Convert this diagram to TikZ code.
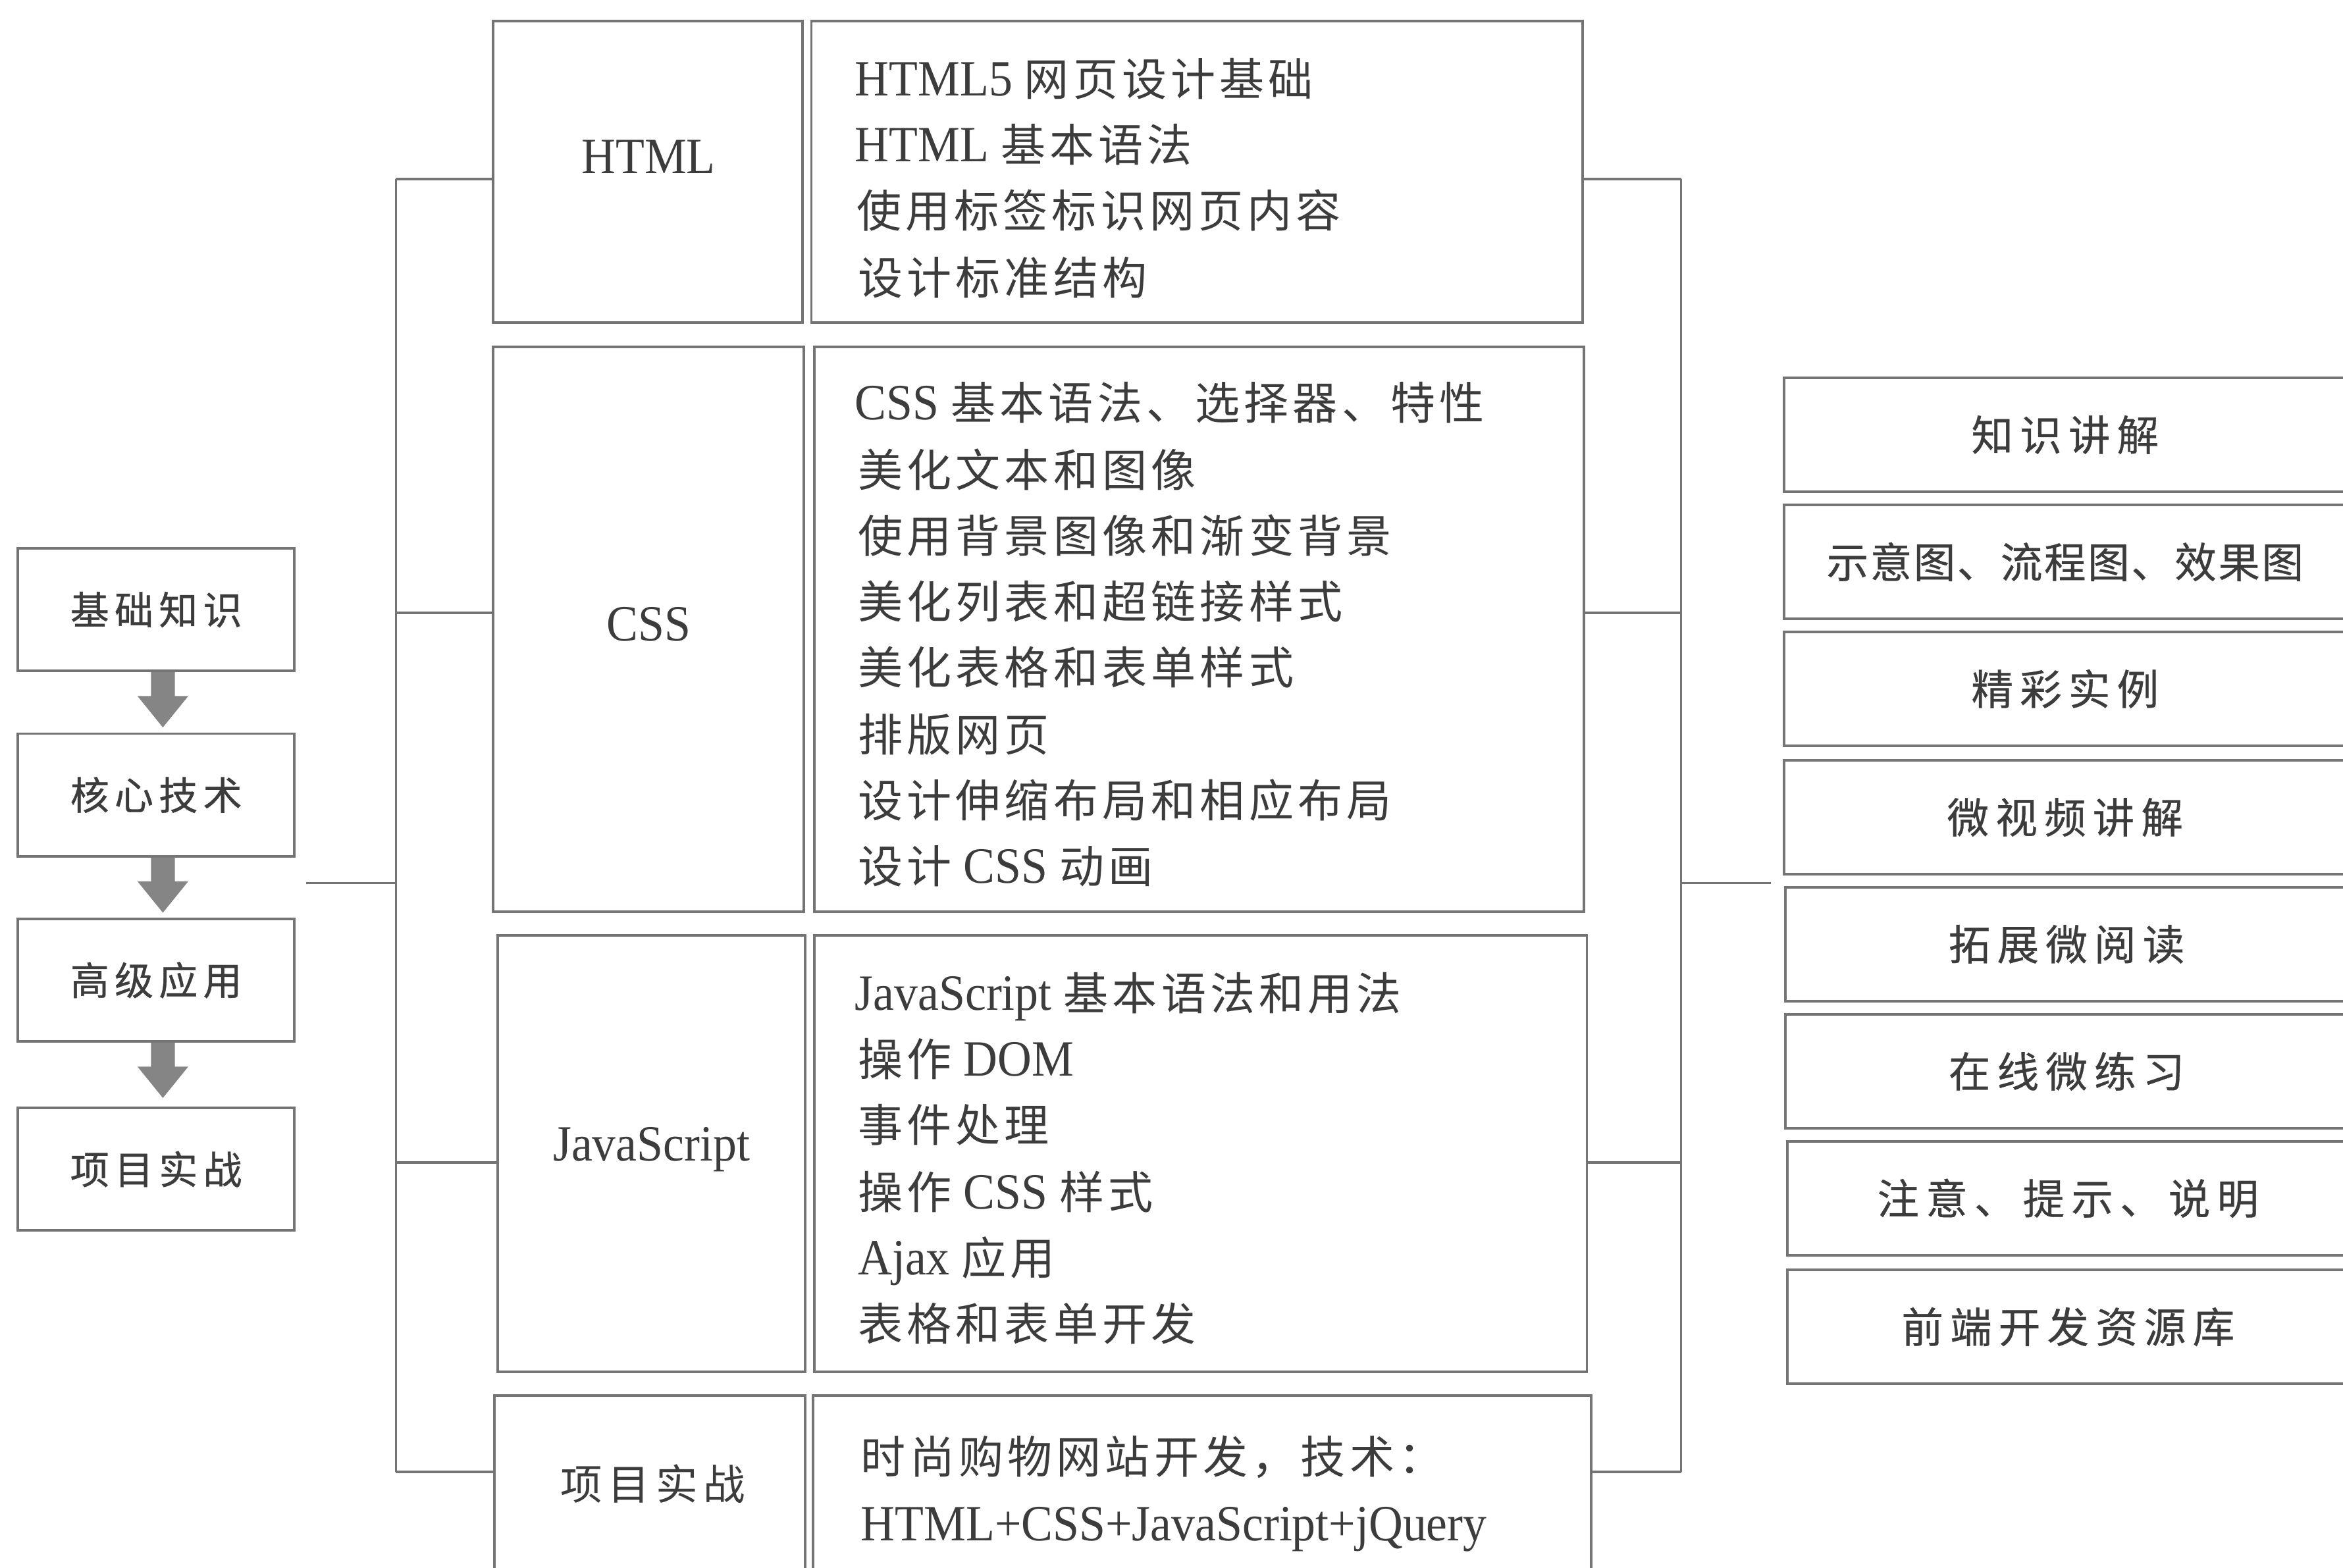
\documentclass[tikz,border=0pt]{standalone}
\usepackage{fontspec}
\setmainfont{Liberation Serif}[FakeStretch=0.93]
\newfontfamily\cjkmid{Noto Sans CJK SC}[LetterSpace=9]
\newfontfamily\cjkbox{Noto Sans CJK SC}[LetterSpace=16,FakeBold=0.5]
\newfontfamily\cjkwide{Noto Sans CJK SC}[LetterSpace=4,FakeBold=0.5]
\newfontfamily\cjkleft{Noto Sans CJK SC}[LetterSpace=14,FakeBold=0.7]
\newfontfamily\cjklab{Noto Sans CJK SC}[LetterSpace=14]
\newcommand\zh[1]{{\fontsize{30}{36}\cjkmid #1}}
\definecolor{ln}{HTML}{747474}
\definecolor{tx}{HTML}{3C3C3C}
\definecolor{arr}{HTML}{858585}
\begin{document}
\begin{tikzpicture}[x=1pt,y=-1pt,
  conn/.style={draw=ln, line width=1.7pt},
  box/.style={draw=ln, line width=1.7pt, rectangle, inner sep=0pt, text=tx},
  lbox/.style={box, minimum width=185pt, minimum height=82pt, font=\fontsize{26}{30}\cjkleft},
  rbox/.style={box, minimum width=376pt, minimum height=76pt, font=\fontsize{28}{32}\cjkbox},
  midtxt/.style={anchor=base west, inner sep=0pt, text=tx, font=\fontsize{34}{40}\selectfont},
  labtxt/.style={anchor=base, inner sep=0pt, text=tx, font=\fontsize{34}{40}\selectfont},
  arrowfill/.style={fill=arr}
]
\useasboundingbox (0,0) rectangle (1568,1049.4);
\fill[white] (0,0) rectangle (1568,1049.4);
\clip (0,0) rectangle (1568,1049.4);

% left flow boxes
\node[lbox] (b1) at (104.5,408) {基础知识};
\node[lbox] (b2) at (104.5,532) {核心技术};
\node[lbox] (b3) at (104.5,656) {高级应用};
\node[lbox] (b4) at (104.5,782.5) {项目实战};
\foreach \a in {b1,b2,b3}{
  \fill[arrowfill] ([xshift=4.5pt]\a.south) ++(-8,0) -- ++(0,16) -- ++(-9,0) -- ++(17,21) -- ++(17,-21) -- ++(-9,0) -- ++(0,-16) -- cycle;
}

% middle boxes
\node[box, minimum width=207pt, minimum height=202pt] (HTMLl) at (433.5,115) {};
\node[box, minimum width=516pt, minimum height=202pt] (HTMLr) at (801,115) {};
\node[box, minimum width=208pt, minimum height=378pt] (CSSl) at (434,421) {};
\node[box, minimum width=515pt, minimum height=378pt] (CSSr) at (802.5,421) {};
\node[box, minimum width=206pt, minimum height=292pt] (JSl) at (436,772) {};
\node[box, minimum width=517pt, minimum height=292pt] (JSr) at (803.5,772) {};
\node[box, minimum width=208pt, minimum height=132pt] (PRl) at (435,1000) {};
\node[box, minimum width=521pt, minimum height=132pt] (PRr) at (804.5,1000) {};

% middle labels
\node[labtxt] (lHTML) at (434,116) {HTML};
\node[labtxt] (lCSS) at (434,429) {CSS};
\node[labtxt] (lJS) at (436,777) {JavaScript};
\node[labtxt, font=\fontsize{28}{32}\cjklab] (lPR) at (437,1004) {项目实战};

% HTML lines
\node[midtxt] (h1) at (572,64) {HTML5 \zh{网页设计基础}};
\node[midtxt] (h2) at (572,108) {HTML \zh{基本语法}};
\node[midtxt] (h3) at (573,152) {\zh{使用标签标识网页内容}};
\node[midtxt] (h4) at (574,197) {\zh{设计标准结构}};
% CSS lines
\node[midtxt] (c1) at (572,281) {CSS \zh{基本语法、选择器、特性}};
\node[midtxt] (c2) at (574,326) {\zh{美化文本和图像}};
\node[midtxt] (c3) at (574,370) {\zh{使用背景图像和渐变背景}};
\node[midtxt] (c4) at (574,414) {\zh{美化列表和超链接样式}};
\node[midtxt] (c5) at (574,458) {\zh{美化表格和表单样式}};
\node[midtxt] (c6) at (574,503) {\zh{排版网页}};
\node[midtxt] (c7) at (574,547) {\zh{设计伸缩布局和相应布局}};
\node[midtxt] (c8) at (574,591) {\zh{设计} CSS \zh{动画}};
% JS lines
\node[midtxt] (j1) at (572,676) {JavaScript \zh{基本语法和用法}};
\node[midtxt] (j2) at (574,720) {\zh{操作} DOM};
\node[midtxt] (j3) at (574,764) {\zh{事件处理}};
\node[midtxt] (j4) at (574,809) {\zh{操作} CSS \zh{样式}};
\node[midtxt] (j5) at (574,853) {Ajax \zh{应用}};
\node[midtxt] (j6) at (574,897) {\zh{表格和表单开发}};
% project lines
\node[midtxt] (p1) at (576,986) {\zh{时尚购物网站开发，技术：}};
\node[midtxt] (p2) at (576,1031) {HTML+CSS+JavaScript+jQuery};

% right boxes
\node[rbox] (r1) at (1382,291) {知识讲解};
\node[rbox, font=\fontsize{28}{32}\cjkwide] (r2) at (1382,376) {示意图、流程图、效果图};
\node[rbox] (r3) at (1382,461) {精彩实例};
\node[rbox] (r4) at (1382,547) {微视频讲解};
\node[rbox] (r5) at (1383,632) {拓展微阅读};
\node[rbox] (r6) at (1383,717) {在线微练习};
\node[rbox] (r7) at (1384,802) {注意、提示、说明};
\node[rbox] (r8) at (1384,888) {前端开发资源库};

% left connectors
\coordinate (LT) at (265,120);
\coordinate (LC) at (265,410);
\coordinate (LJ) at (265,778);
\coordinate (LB) at (265,985);
\coordinate (LM) at (265,591);
\coordinate (LE) at (205,591);
\draw[conn] (LT) -- (LB);
\draw[conn] (LT) -- (LT -| HTMLl.west);
\draw[conn] (LC) -- (LC -| CSSl.west);
\draw[conn] (LJ) -- (LJ -| JSl.west);
\draw[conn] (LB) -- (LB -| PRl.west);
\draw[conn] (LE) -- (LM);

% right connectors
\coordinate (RT) at (1125,120);
\coordinate (RC) at (1125,410);
\coordinate (RJ) at (1125,778);
\coordinate (RB) at (1125,985);
\coordinate (RM) at (1125,591);
\coordinate (RE) at (1185,591);
\draw[conn] (RT) -- (RB);
\draw[conn] (RT) -- (RT -| HTMLr.east);
\draw[conn] (RC) -- (RC -| CSSr.east);
\draw[conn] (RJ) -- (RJ -| JSr.east);
\draw[conn] (RB) -- (RB -| PRr.east);
\draw[conn] (RM) -- (RE);
\end{tikzpicture}
\end{document}
